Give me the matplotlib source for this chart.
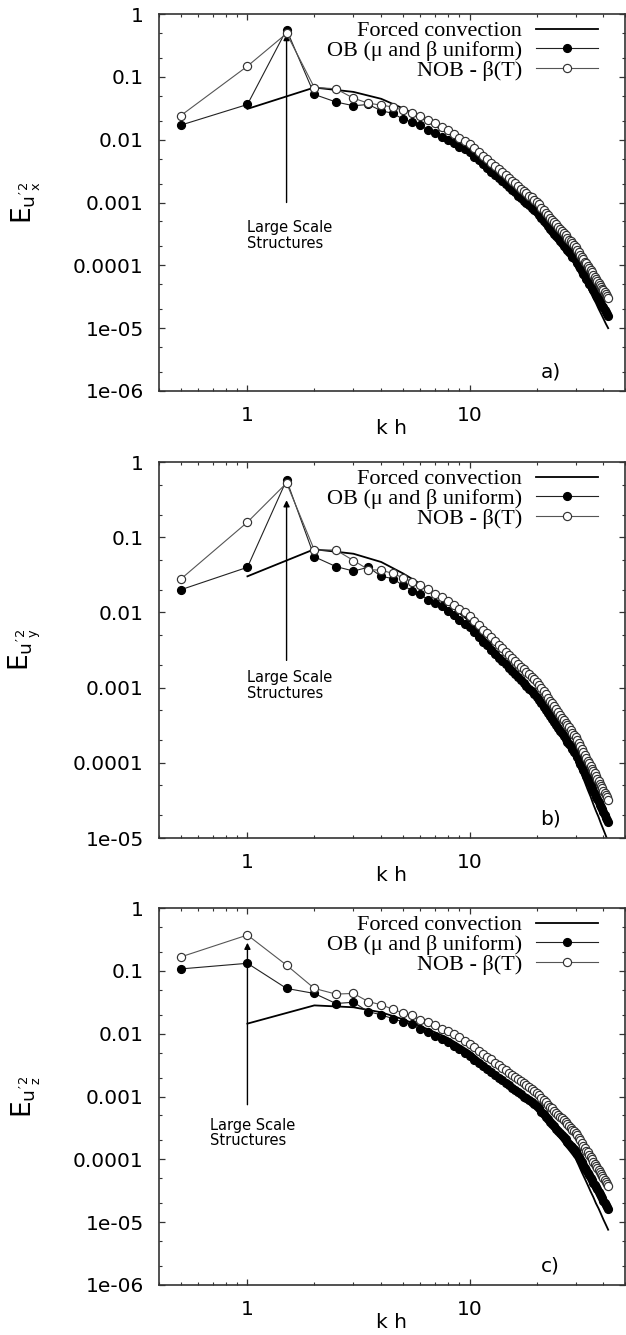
import numpy as np
import matplotlib
matplotlib.use("Agg")
import matplotlib.pyplot as plt

plt.rcParams['font.family'] = ['DejaVu Sans']
plt.rcParams['mathtext.fontset'] = 'custom'
plt.rcParams['mathtext.rm'] = 'DejaVu Sans'
plt.rcParams['mathtext.it'] = 'DejaVu Sans'
plt.rcParams['mathtext.sf'] = 'DejaVu Sans'

# wavenumber grids (k h)
kh_sim = np.arange(1, 85) * 0.5      # 0.5 ... 42
kh_forced = np.arange(1, 43) * 1.0   # 1 ... 42

# log10 of the spectra
ob_x = [-1.77, -1.44, -0.25, -1.28, -1.40, -1.46, -1.44, -1.54, -1.58, -1.67, -1.72, -1.77, -1.85, -1.90, -1.95, -2.00,
        -2.05, -2.11, -2.15, -2.20,
        -2.27, -2.33, -2.39, -2.45, -2.51, -2.56, -2.61, -2.66, -2.71, -2.76, -2.80, -2.84, -2.89, -2.93, -2.97, -3.01, -3.04, -3.08, -3.12, -3.15,
        -3.20, -3.24, -3.29, -3.33, -3.37, -3.42, -3.46, -3.50, -3.54, -3.57, -3.61, -3.65, -3.69, -3.72, -3.76, -3.79, -3.82, -3.86, -3.89, -3.92,
        -3.96, -4.01, -4.05, -4.09, -4.13, -4.17, -4.21, -4.25, -4.29, -4.32, -4.36, -4.40, -4.43, -4.47, -4.50, -4.54, -4.57, -4.61, -4.64, -4.67, -4.71, -4.74, -4.77, -4.80]
nob_x = [-1.62, -0.83, -0.31, -1.17, -1.19, -1.34, -1.42, -1.45, -1.48, -1.53, -1.58, -1.63, -1.69, -1.74, -1.80, -1.85,
         -1.91, -1.97, -2.02, -2.07,
         -2.13, -2.20, -2.26, -2.31, -2.37, -2.42, -2.47, -2.52, -2.56, -2.61, -2.65, -2.69, -2.74, -2.78, -2.81, -2.85, -2.89, -2.92, -2.96, -2.99,
         -3.03, -3.08, -3.12, -3.16, -3.20, -3.24, -3.28, -3.31, -3.35, -3.39, -3.42, -3.46, -3.49, -3.52, -3.56, -3.59, -3.62, -3.65, -3.68, -3.71,
         -3.75, -3.79, -3.83, -3.87, -3.90, -3.94, -3.97, -4.01, -4.05, -4.08, -4.11, -4.15, -4.18, -4.21, -4.25, -4.28, -4.31, -4.34, -4.37, -4.40, -4.43, -4.46, -4.49, -4.52]
forced_x = [-1.51, -1.17, -1.24, -1.35, -1.50, -1.64, -1.78, -1.90, -2.01, -2.12,
            -2.25, -2.38, -2.49, -2.60, -2.69, -2.79, -2.87, -2.95, -3.03, -3.10,
            -3.20, -3.30, -3.39, -3.48, -3.57, -3.65, -3.73, -3.81, -3.88, -3.95,
            -4.05, -4.15, -4.25, -4.34, -4.43, -4.52, -4.60, -4.69, -4.77, -4.85, -4.93, -5.00]

ob_y = [-1.70, -1.40, -0.24, -1.26, -1.39, -1.45, -1.40, -1.52, -1.55, -1.64, -1.71, -1.75, -1.84, -1.87, -1.92, -1.98,
        -2.04, -2.10, -2.15, -2.20,
        -2.26, -2.33, -2.39, -2.44, -2.50, -2.55, -2.60, -2.65, -2.69, -2.74, -2.78, -2.82, -2.86, -2.90, -2.94, -2.98, -3.02, -3.05, -3.09, -3.12,
        -3.17, -3.21, -3.26, -3.30, -3.34, -3.38, -3.42, -3.46, -3.50, -3.54, -3.58, -3.61, -3.65, -3.68, -3.72, -3.75, -3.78, -3.82, -3.85, -3.88,
        -3.92, -3.97, -4.01, -4.05, -4.10, -4.14, -4.18, -4.22, -4.26, -4.30, -4.33, -4.37, -4.41, -4.45, -4.48, -4.52, -4.56, -4.59, -4.62, -4.66, -4.69, -4.73, -4.76, -4.79]
nob_y = [-1.56, -0.80, -0.28, -1.17, -1.17, -1.31, -1.43, -1.44, -1.48, -1.54, -1.59, -1.64, -1.69, -1.76, -1.79, -1.85,
         -1.90, -1.95, -2.00, -2.05,
         -2.11, -2.17, -2.23, -2.28, -2.33, -2.38, -2.43, -2.47, -2.52, -2.56, -2.60, -2.64, -2.68, -2.72, -2.75, -2.79, -2.82, -2.86, -2.89, -2.92,
         -2.97, -3.01, -3.05, -3.09, -3.14, -3.18, -3.21, -3.25, -3.29, -3.33, -3.36, -3.40, -3.43, -3.47, -3.50, -3.53, -3.57, -3.60, -3.63, -3.66,
         -3.70, -3.74, -3.78, -3.82, -3.86, -3.90, -3.93, -3.97, -4.00, -4.04, -4.08, -4.11, -4.14, -4.18, -4.21, -4.24, -4.28, -4.31, -4.34, -4.37, -4.40, -4.43, -4.46, -4.49]
forced_y = [-1.52, -1.16, -1.22, -1.33, -1.48, -1.62, -1.76, -1.89, -2.01, -2.12,
            -2.25, -2.38, -2.49, -2.60, -2.69, -2.79, -2.87, -2.95, -3.03, -3.10,
            -3.20, -3.30, -3.39, -3.48, -3.57, -3.65, -3.73, -3.81, -3.88, -3.95,
            -4.06, -4.16, -4.26, -4.36, -4.45, -4.55, -4.64, -4.72, -4.81, -4.89, -4.97, -5.05]

ob_z = [-0.97, -0.88, -1.28, -1.36, -1.52, -1.50, -1.65, -1.70, -1.76, -1.81, -1.85, -1.93, -1.98, -2.04, -2.09, -2.14,
        -2.19, -2.25, -2.30, -2.36,
        -2.42, -2.47, -2.52, -2.57, -2.61, -2.66, -2.70, -2.74, -2.78, -2.82, -2.86, -2.90, -2.93, -2.96, -3.00, -3.03, -3.06, -3.09, -3.12, -3.15,
        -3.19, -3.24, -3.28, -3.32, -3.36, -3.40, -3.44, -3.47, -3.51, -3.55, -3.58, -3.62, -3.65, -3.68, -3.72, -3.75, -3.78, -3.81, -3.84, -3.87,
        -3.92, -3.96, -4.00, -4.05, -4.09, -4.13, -4.17, -4.21, -4.25, -4.29, -4.33, -4.37, -4.41, -4.44, -4.48, -4.52, -4.55, -4.59, -4.62, -4.66, -4.69, -4.72, -4.76, -4.79]
nob_z = [-0.78, -0.43, -0.91, -1.28, -1.37, -1.36, -1.49, -1.54, -1.61, -1.67, -1.71, -1.79, -1.82, -1.87, -1.92, -1.96,
         -2.01, -2.06, -2.11, -2.16,
         -2.21, -2.27, -2.32, -2.37, -2.41, -2.46, -2.50, -2.54, -2.58, -2.62, -2.65, -2.69, -2.72, -2.76, -2.79, -2.82, -2.85, -2.88, -2.91, -2.94,
         -2.98, -3.02, -3.05, -3.09, -3.13, -3.16, -3.19, -3.23, -3.26, -3.29, -3.32, -3.35, -3.38, -3.41, -3.44, -3.47, -3.50, -3.53, -3.55, -3.58,
         -3.62, -3.66, -3.70, -3.74, -3.78, -3.82, -3.86, -3.89, -3.93, -3.97, -4.00, -4.04, -4.07, -4.10, -4.14, -4.17, -4.20, -4.24, -4.27, -4.30, -4.33, -4.36, -4.39, -4.42]
forced_z = [-1.84, -1.55, -1.58, -1.66, -1.77, -1.88, -1.98, -2.07, -2.18, -2.28,
            -2.40, -2.51, -2.62, -2.71, -2.80, -2.88, -2.96, -3.04, -3.10, -3.17,
            -3.27, -3.36, -3.45, -3.54, -3.62, -3.70, -3.78, -3.85, -3.92, -3.99,
            -4.10, -4.21, -4.31, -4.41, -4.51, -4.60, -4.70, -4.78, -4.87, -4.96, -5.04, -5.12]

series_labels = ['Forced convection', 'OB (\u03bc and \u03b2 uniform)', 'NOB - \u03b2(T)']
panel_tags = ['a)', 'b)', 'c)']
ylabels = [r"$\mathrm{E}_{{u'}_{x}^{2}}$", r"$\mathrm{E}_{{u'}_{y}^{2}}$", r"$\mathrm{E}_{{u'}_{z}^{2}}$"]
ytick_vals = [1, 0.1, 0.01, 0.001, 0.0001, 1e-05, 1e-06]
ytick_text = ['1', '0.1', '0.01', '0.001', '0.0001', '1e-05', '1e-06']
ylims = [(1e-6, 1), (1e-5, 1), (1e-6, 1)]
# arrow: x, base, tip ; text: x, top
arrows = [(1.5, 1.0e-3, 0.48), (1.5, 2.3e-3, 0.31), (1.0, 7.4e-4, 0.28)]
notes = [(1.0, 5.2e-4), (1.0, 1.7e-3), (0.68, 4.6e-4)]

data = [(ob_x, nob_x, forced_x), (ob_y, nob_y, forced_y), (ob_z, nob_z, forced_z)]

W, H = 626, 1335
fig = plt.figure(figsize=(W / 100, H / 100), dpi=100)
frames = [(14, 391), (462, 838), (908, 1285)]  # top, bottom in pixels
x0, x1 = 159, 625

for i, (ob, nob, forced) in enumerate(data):
    top, bot = frames[i]
    ax = fig.add_axes([x0 / W, (H - bot) / H, (x1 - x0) / W, (bot - top) / H])
    ax.set_xscale('log')
    ax.set_yscale('log')

    ax.plot(kh_forced, 10 ** np.array(forced), color='black', lw=1.3,
            label=series_labels[0], zorder=2)
    ax.plot(kh_sim, 10 ** np.array(ob), color='#222222', lw=0.8, marker='o',
            ms=5.6, mfc='black', mec='black', label=series_labels[1], zorder=3)
    ax.plot(kh_sim, 10 ** np.array(nob), color='#555555', lw=0.8, marker='o',
            ms=5.9, mfc='white', mec='#333333', mew=0.85, label=series_labels[2], zorder=4)

    ax.set_xlim(0.4, 50)
    ax.set_ylim(*ylims[i])
    ax.set_xticks([1, 10])
    ax.set_xticklabels(['1', '10'])
    yv = [v for v in ytick_vals if ylims[i][0] <= v <= ylims[i][1]]
    ax.set_yticks(yv)
    ax.set_yticklabels([t for v, t in zip(ytick_vals, ytick_text) if v in yv])
    ax.yaxis.set_minor_locator(matplotlib.ticker.LogLocator(base=10, subs=(2.0, 5.0), numticks=20))
    ax.yaxis.set_minor_formatter(matplotlib.ticker.NullFormatter())
    ax.xaxis.set_minor_formatter(matplotlib.ticker.NullFormatter())

    ax.tick_params(which='both', direction='in', top=True, right=True,
                   labelsize=14.5, pad=11, color='#333333')
    ax.tick_params(which='major', length=4.5, width=0.9)
    ax.tick_params(which='minor', length=2.5, width=0.8)
    for sp in ax.spines.values():
        sp.set_linewidth(1.2)
        sp.set_color('#333333')

    ax.set_xlabel('k h', fontsize=14.5)
    ax.xaxis.set_label_coords(0.5, -0.10)
    ax.xaxis.label.set_va('center')
    ax.set_ylabel(ylabels[i], fontsize=19)
    ax.yaxis.set_label_coords(-0.25, 0.5)

    xa, yb, yt = arrows[i]
    ax.annotate('', xy=(xa, yt), xytext=(xa, yb),
                arrowprops=dict(arrowstyle='-|>', color='black', lw=1.0,
                                mutation_scale=9, shrinkA=0, shrinkB=0))
    ax.text(notes[i][0], notes[i][1], 'Large Scale\nStructures', fontsize=10.5,
            ha='left', va='top', linespacing=1.05)
    ax.text(0.84, 0.05, panel_tags[i], transform=ax.transAxes, fontsize=14.5,
            ha='center', va='center')

    leg = ax.legend(loc='upper right', bbox_to_anchor=(0.942, 0.982), frameon=False,
                    markerfirst=False, numpoints=1, handlelength=2.8,
                    handletextpad=0.62, labelspacing=-0.04, borderpad=0, borderaxespad=0,
                    prop={'family': 'Liberation Serif', 'size': 16})
    for t in leg.get_texts():
        t.set_ha('right')

fig.savefig('out.png', dpi=100)
